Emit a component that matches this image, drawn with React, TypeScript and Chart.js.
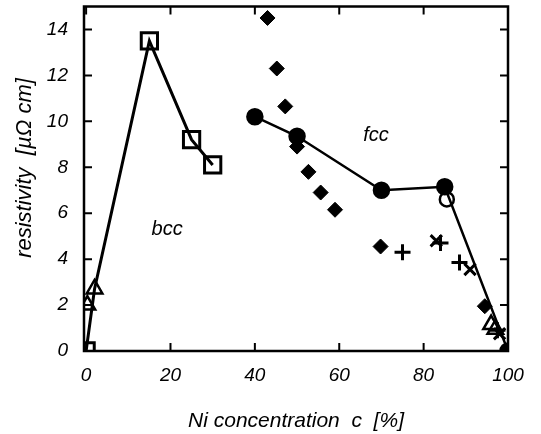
import React, { useEffect, useRef } from "react";
import { Chart, registerables } from "chart.js";

Chart.register(...registerables);

// ---- data ----
const bccLineX = [0, 2, 15, 25, 30];
const bccLineY = [0, 2.7, 13.5, 9.2, 8.1];

const squareX = [0, 15, 25, 30];
const squareY = [0, 13.5, 9.2, 8.1];

const triangleX = [0.3, 2, 96, 97];
const triangleY = [2.0, 2.7, 1.15, 0.95];

const fccX = [40, 50, 70, 85, 100];
const fccY = [10.2, 9.35, 7.0, 7.15, 0];

const openCircleX = [85.5];
const openCircleY = [6.6];

const diamondX = [43, 45.2, 47.2, 50, 52.7, 55.6, 59, 69.8, 94.5];
const diamondY = [14.5, 12.3, 10.65, 8.9, 7.8, 6.9, 6.15, 4.55, 1.95];

const plusX = [75, 84, 88.5, 97.5];
const plusY = [4.3, 4.7, 3.85, 0.9];

const crossX = [83, 91, 98];
const crossY = [4.8, 3.55, 0.75];

const xTicks = [0, 20, 40, 60, 80, 100];
const yTicks = [0, 2, 4, 6, 8, 10, 12, 14];

const xTitle = "Ni concentration  c  [%]";
const yTitle = "resistivity  [µΩ cm]";

const phaseLabels = [
  { text: "bcc", x: 19.2, y: 5.3 },
  { text: "fcc", x: 68.7, y: 9.4 },
];

const pts = (xs: number[], ys: number[]) => xs.map((x, i) => ({ x, y: ys[i] }));

const FONT_FAMILY = "'Liberation Sans', Arial, Helvetica, sans-serif";
const SHIFT = 8; // canvas is placed 8px above the page top

const framePlugin = {
  id: "framePlugin",
  afterDraw(chart: any) {
    const { ctx, chartArea } = chart;
    const xs = chart.scales.x;
    const ys = chart.scales.y;
    const { left, right, top, bottom } = chartArea;
    ctx.save();
    ctx.strokeStyle = "#000";
    ctx.lineWidth = 2;
    const tl = 8;
    ctx.beginPath();
    xTicks.forEach((v) => {
      const px = xs.getPixelForValue(v);
      ctx.moveTo(px, bottom);
      ctx.lineTo(px, bottom - tl);
      ctx.moveTo(px, top);
      ctx.lineTo(px, top + tl);
    });
    yTicks.forEach((v) => {
      const py = ys.getPixelForValue(v);
      ctx.moveTo(left, py);
      ctx.lineTo(left + tl, py);
      ctx.moveTo(right, py);
      ctx.lineTo(right - tl, py);
    });
    ctx.stroke();
    ctx.lineWidth = 2.5;
    ctx.strokeRect(left, top, right - left, bottom - top);

    // phase labels
    ctx.fillStyle = "#000";
    ctx.font = `italic 20px ${FONT_FAMILY}`;
    ctx.textAlign = "center";
    ctx.textBaseline = "middle";
    phaseLabels.forEach((l) => {
      ctx.fillText(l.text, xs.getPixelForValue(l.x), ys.getPixelForValue(l.y));
    });

    // axis titles
    ctx.font = `italic 21px ${FONT_FAMILY}`;
    ctx.fillText(xTitle, (left + right) / 2, 421 + SHIFT);
    ctx.font = `italic 22px ${FONT_FAMILY}`;
    ctx.translate(25, 168 + SHIFT);
    ctx.rotate(-Math.PI / 2);
    ctx.fillText(yTitle, 0, 0);
    ctx.restore();
  },
};

export default function App() {
  const ref = useRef<HTMLCanvasElement | null>(null);
  useEffect(() => {
    document.body.style.margin = "0";
    document.body.style.overflow = "hidden";
    if (!ref.current) return;
    const black = "#000";
    const chart = new Chart(ref.current, {
      type: "scatter",
      data: {
        datasets: [
          {
            label: "open circle",
            data: pts(openCircleX, openCircleY),
            pointStyle: "circle",
            pointRadius: 7,
            borderColor: black,
            backgroundColor: "rgba(0,0,0,0)",
            borderWidth: 2.5,
            showLine: false,
          },
          {
            label: "plus",
            data: pts(plusX, plusY),
            pointStyle: "cross",
            pointRadius: 8,
            borderColor: black,
            backgroundColor: black,
            borderWidth: 3,
            showLine: false,
          },
          {
            label: "cross",
            data: pts(crossX, crossY),
            pointStyle: "crossRot",
            pointRadius: 8,
            borderColor: black,
            backgroundColor: black,
            borderWidth: 3,
            showLine: false,
          },
          {
            label: "triangles",
            data: pts(triangleX, triangleY),
            pointStyle: "triangle",
            pointRadius: 9,
            borderColor: black,
            backgroundColor: "rgba(0,0,0,0)",
            borderWidth: 2.5,
            showLine: false,
          },
          {
            label: "squares",
            data: pts(squareX, squareY),
            pointStyle: "rect",
            pointRadius: 11.5,
            borderColor: black,
            backgroundColor: "rgba(0,0,0,0)",
            borderWidth: 3,
            showLine: false,
          },
          {
            label: "diamonds",
            data: pts(diamondX, diamondY),
            pointStyle: "rectRot",
            pointRadius: 7.5,
            borderColor: black,
            backgroundColor: black,
            borderWidth: 1,
            showLine: false,
          },
          {
            label: "fcc",
            data: pts(fccX, fccY),
            pointStyle: "circle",
            pointRadius: 7.5,
            borderColor: black,
            backgroundColor: black,
            borderWidth: 2.5,
            showLine: true,
          },
          {
            label: "bcc line",
            data: pts(bccLineX, bccLineY),
            pointRadius: 0,
            borderColor: black,
            borderWidth: 3,
            showLine: true,
          },
        ],
      },
      options: {
        responsive: false,
        animation: false,
        devicePixelRatio: 1,
        layout: { padding: { top: 6, right: 33, left: 0, bottom: 0 } },
        plugins: {
          legend: { display: false },
          tooltip: { enabled: false },
        },
        scales: {
          x: {
            type: "linear",
            min: -0.5,
            max: 100,
            grid: { display: false },
            border: { display: false },
            afterFit: (s: any) => {
              s.height = 83;
              s.paddingLeft = 0;
              s.paddingRight = 0;
            },
            afterBuildTicks: (s: any) => {
              s.ticks = xTicks.map((v) => ({ value: v }));
            },
            ticks: {
              color: black,
              padding: 5,
              maxRotation: 0,
              autoSkip: false,
              font: { family: FONT_FAMILY, size: 19, style: "italic" },
            },
          },
          y: {
            type: "linear",
            min: 0,
            max: 15,
            grid: { display: false },
            border: { display: false },
            afterFit: (s: any) => {
              s.width = 84;
              s.paddingTop = 0;
              s.paddingBottom = 0;
            },
            afterBuildTicks: (s: any) => {
              s.ticks = yTicks.map((v) => ({ value: v }));
            },
            ticks: {
              color: black,
              padding: 8,
              autoSkip: false,
              font: { family: FONT_FAMILY, size: 19, style: "italic" },
            },
          },
        },
      },
      plugins: [framePlugin],
    });
    return () => chart.destroy();
  }, []);
  return (
    <div style={{ position: "absolute", left: 0, top: -SHIFT, width: 541, height: 434 + SHIFT, background: "#fff" }}>
      <canvas ref={ref} width={541} height={434 + SHIFT} style={{ width: 541, height: 434 + SHIFT }} />
    </div>
  );
}
